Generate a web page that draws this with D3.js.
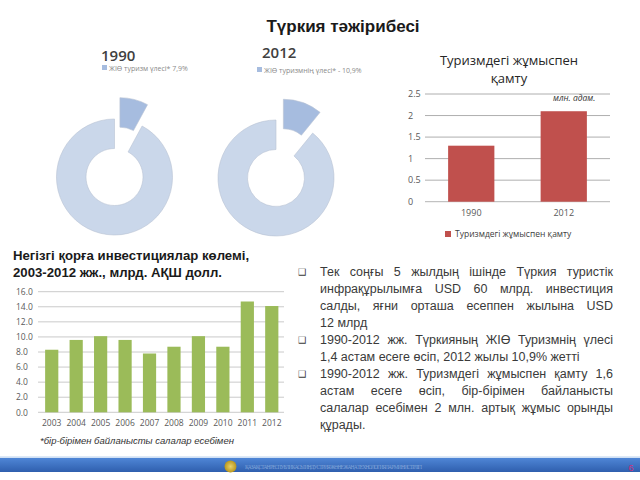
<!DOCTYPE html>
<html>
<head>
<meta charset="utf-8">
<script src="https://cdn.jsdelivr.net/npm/d3@7"></script>
<style>
  body { margin: 0; background: #fff; }
  svg { display: block; }
</style>
</head>
<body>
<script>
// donut data, share of tourism in GDP
const donutYears = ["1990", "2012"];
const donutShares = [7.9, 10.9];
const donutLegends = ["ЖІӨ туризм үлесі*   7,9%", "ЖІӨ туризмнің үлесі* - 10,9%"];

// employment in tourism, mln people
const empYears = ["1990", "2012"];
const empValues = [1.3, 2.1];
const empTicks = [0, 0.5, 1, 1.5, 2, 2.5];

// investment in fixed assets, bln USD
const invYears = ["2003", "2004", "2005", "2006", "2007", "2008", "2009", "2010", "2011", "2012"];
const invValues = [8.3, 9.6, 10.1, 9.6, 7.8, 8.7, 10.1, 8.7, 14.7, 14.1];
const invTicks = [0, 2, 4, 6, 8, 10, 12, 14, 16];

const bullets = [
  ["Тек соңғы 5 жылдың ішінде Түркия туристік",
   "инфрақұрылымға USD 60 млрд. инвестиция",
   "салды, яғни орташа есеппен жылына USD",
   "12 млрд"],
  ["1990-2012 жж. Түркияның ЖІӨ Туризмнің үлесі",
   "1,4 астам есеге өсіп, 2012 жылы 10,9% жетті"],
  ["1990-2012 жж. Туризмдегі жұмыспен қамту 1,6",
   "астам есеге өсіп, бір-бірімен байланысты",
   "салалар есебімен 2 млн. артық жұмыс орынды",
   "құрады."]
];

const width = 640, height = 480;
const svg = d3.select("body").append("svg")
    .attr("width", width)
    .attr("height", height);

const sans = "'Liberation Sans', Arial, sans-serif";
const chartFont = "'Open Sans', 'Noto Sans', sans-serif";

// main title
svg.append("text")
    .attr("x", 343).attr("y", 32)
    .attr("text-anchor", "middle")
    .attr("font-family", sans)
    .attr("font-weight", "bold")
    .attr("font-size", 17)
    .attr("fill", "#1a1a1a")
    .text("Түркия тәжірибесі");

// ---- donuts ----
const donutCenters = [[114.5, 177], [276, 178]];
const labelPos = [[101, 61], [262, 58]];
const legendPos = [[102, 68], [257, 70]];
const pie = d3.pie().sort(null).value(d => d);
const arc = d3.arc().innerRadius(28.5).outerRadius(58);

donutShares.forEach((share, i) => {
  const [cx, cy] = donutCenters[i];
  const g = svg.append("g").attr("transform", `translate(${cx},${cy})`);
  const arcs = pie([share, 100 - share]);
  g.selectAll("path")
    .data(arcs)
    .join("path")
      .attr("transform", (d, j) => {
        if (j !== 0) return null;
        const a = (d.startAngle + d.endAngle) / 2;
        return `translate(${Math.sin(a) * 22},${-Math.cos(a) * 22})`;
      })
      .attr("d", arc)
      .attr("fill", (d, j) => j === 0 ? "#a6bcdf" : "#cad7ea")
      .attr("stroke", "#b8c3d3")
      .attr("stroke-width", 0.6);

  svg.append("text")
      .attr("x", labelPos[i][0]).attr("y", labelPos[i][1])
      .attr("font-family", chartFont)
      .attr("font-weight", 600)
      .attr("font-size", 15)
      .attr("fill", "#404040")
      .text(donutYears[i]);

  svg.append("rect")
      .attr("x", legendPos[i][0]).attr("y", legendPos[i][1] - 3)
      .attr("width", 5).attr("height", 5)
      .attr("fill", "#a6bcdf");
  svg.append("text")
      .attr("x", legendPos[i][0] + 7).attr("y", legendPos[i][1] + 2.5)
      .attr("font-family", chartFont)
      .attr("font-size", 7)
      .attr("fill", "#8a8a8a")
      .text(donutLegends[i]);
});

// ---- employment bar chart ----
{
  const x = d3.scaleBand().domain(empYears).range([425, 610]).paddingInner(0.5).paddingOuter(0.25);
  const y = d3.scaleLinear().domain([0, 2.5]).range([201.7, 94]);
  const g = svg.append("g").attr("font-family", chartFont);

  g.append("text")
      .attr("x", 509).attr("text-anchor", "middle")
      .attr("font-size", 13).attr("fill", "#262626")
    .selectAll("tspan")
    .data(["Туризмдегі жұмыспен", "қамту"])
    .join("tspan")
      .attr("x", 509)
      .attr("y", (d, i) => 65 + i * 18)
      .text(d => d);

  g.append("g")
    .selectAll("line")
    .data(empTicks)
    .join("line")
      .attr("x1", 425).attr("x2", 610)
      .attr("y1", d => y(d)).attr("y2", d => y(d))
      .attr("stroke", d => d === 0 ? "#a0a0a0" : "#9a9a9a")
      .attr("stroke-width", 0.8);

  g.append("g")
    .selectAll("text")
    .data(empTicks)
    .join("text")
      .attr("x", 408)
      .attr("y", d => y(d) + 3.2)
      .attr("font-size", 9)
      .attr("fill", "#595959")
      .text(d => d);

  g.append("g")
    .selectAll("rect")
    .data(empValues)
    .join("rect")
      .attr("x", (d, i) => x(empYears[i]))
      .attr("width", x.bandwidth())
      .attr("y", d => y(d))
      .attr("height", d => y(0) - y(d))
      .attr("fill", "#c0504d");

  g.append("g")
    .selectAll("text")
    .data(empYears)
    .join("text")
      .attr("x", d => x(d) + x.bandwidth() / 2)
      .attr("y", 216)
      .attr("text-anchor", "middle")
      .attr("font-size", 9)
      .attr("fill", "#595959")
      .text(d => d);

  g.append("text")
      .attr("x", 553).attr("y", 101)
      .attr("font-size", 8.5)
      .attr("font-style", "italic")
      .attr("fill", "#333")
      .text("млн. адам.");

  g.append("rect")
      .attr("x", 445).attr("y", 231)
      .attr("width", 6).attr("height", 6)
      .attr("fill", "#c0504d");
  g.append("text")
      .attr("x", 455).attr("y", 237)
      .attr("font-size", 8.5)
      .attr("fill", "#404040")
      .text("Туризмдегі жұмыспен қамту");
}

// ---- investment bar chart ----
{
  g0 = svg.append("g").attr("font-family", sans)
      .attr("font-weight", "bold").attr("font-size", 13.2).attr("fill", "#1a1a1a");
  g0.append("text").attr("x", 13).attr("y", 260).text("Негізгі қорға инвестициялар көлемі,");
  g0.append("text").attr("x", 13).attr("y", 277).text("2003-2012 жж., млрд. АҚШ долл.");

  const x = d3.scaleBand().domain(invYears).range([39.5, 284]).paddingInner(0.46).paddingOuter(0.23);
  const y = d3.scaleLinear().domain([0, 16]).range([412.3, 291.7]);
  const g = svg.append("g").attr("font-family", chartFont);

  g.append("g")
    .selectAll("line")
    .data(invTicks)
    .join("line")
      .attr("x1", 38).attr("x2", 284)
      .attr("y1", d => y(d)).attr("y2", d => y(d))
      .attr("stroke", "#bdbdbd")
      .attr("stroke-width", 0.8);

  g.append("g")
    .selectAll("text")
    .data(invTicks)
    .join("text")
      .attr("x", 16)
      .attr("y", d => y(d) + 3.2)
      .attr("font-size", 8.5)
      .attr("fill", "#595959")
      .text(d => d3.format(".1f")(d));

  g.append("g")
    .selectAll("rect")
    .data(invValues)
    .join("rect")
      .attr("x", (d, i) => x(invYears[i]))
      .attr("width", x.bandwidth())
      .attr("y", d => y(d))
      .attr("height", d => y(0) - y(d))
      .attr("fill", "#9bbb59");

  g.append("g")
    .selectAll("text")
    .data(invYears)
    .join("text")
      .attr("x", d => x(d) + x.bandwidth() / 2)
      .attr("y", 426)
      .attr("text-anchor", "middle")
      .attr("font-size", 8.5)
      .attr("fill", "#595959")
      .text(d => d);

  svg.append("text")
      .attr("x", 40).attr("y", 444)
      .attr("font-family", sans)
      .attr("font-style", "italic")
      .attr("font-size", 9.5)
      .attr("fill", "#333")
      .text("*бір-бірімен байланысты салалар есебімен");
}

// ---- bullet text, justified ----
{
  const g = svg.append("g")
      .attr("font-family", sans)
      .attr("font-size", 12.5)
      .attr("fill", "#3a3a3a");
  const left = 320, right = 613;
  let line = 0;
  const measure = g.append("text").attr("visibility", "hidden");
  const wordWidth = w => measure.text(w).node().getComputedTextLength();

  bullets.forEach(par => {
    g.append("text")
        .attr("x", 298).attr("y", 275 + line * 17)
        .attr("font-family", "'DejaVu Sans', sans-serif")
        .attr("font-size", 9)
        .text("❑");
    par.forEach((txt, k) => {
      const yy = 275.5 + line * 17;
      const last = k === par.length - 1;
      if (last) {
        g.append("text").attr("x", left).attr("y", yy).attr("xml:space", "preserve").text(txt);
      } else {
        const words = txt.split(" ");
        const widths = words.map(wordWidth);
        const gap = (right - left - d3.sum(widths)) / (words.length - 1);
        let cx = left;
        words.forEach((w, j) => {
          g.append("text").attr("x", cx).attr("y", yy).text(w);
          cx += widths[j] + gap;
        });
      }
      line++;
    });
  });
  measure.remove();
}

// ---- footer strip ----
{
  const defs = svg.append("defs");
  const grad = defs.append("linearGradient").attr("id", "foot").attr("x1", 0).attr("y1", 0).attr("x2", 0).attr("y2", 1);
  grad.append("stop").attr("offset", 0).attr("stop-color", "#4f86d6");
  grad.append("stop").attr("offset", 1).attr("stop-color", "#2f5fae");
  const eg = defs.append("radialGradient").attr("id", "emb");
  eg.append("stop").attr("offset", 0).attr("stop-color", "#e8d26a");
  eg.append("stop").attr("offset", 1).attr("stop-color", "#b8961e");

  svg.append("rect").attr("x", 0).attr("y", 456.5).attr("width", width).attr("height", 1.2).attr("fill", "#bcd3f0");
  svg.append("rect").attr("x", 0).attr("y", 458).attr("width", width).attr("height", 14).attr("fill", "url(#foot)");
  svg.append("circle").attr("cx", 230.5).attr("cy", 466.5).attr("r", 6).attr("fill", "url(#emb)");
  svg.append("text")
      .attr("x", 245).attr("y", 468.5)
      .attr("font-family", "'Liberation Serif', serif")
      .attr("font-size", 5.5)
      .attr("fill", "#7fa3d8")
      .attr("textLength", 177)
      .text("ҚАЗАҚСТАН РЕСПУБЛИКАСЫ ИНДУСТРИЯ ЖӘНЕ ЖАҢА ТЕХНОЛОГИЯЛАР МИНИСТРЛІГІ");
  svg.append("text")
      .attr("x", 631).attr("y", 470.5)
      .attr("text-anchor", "middle")
      .attr("font-family", sans)
      .attr("font-size", 9)
      .attr("fill", "#d0307a")
      .text("6");
}
</script>
</body>
</html>
